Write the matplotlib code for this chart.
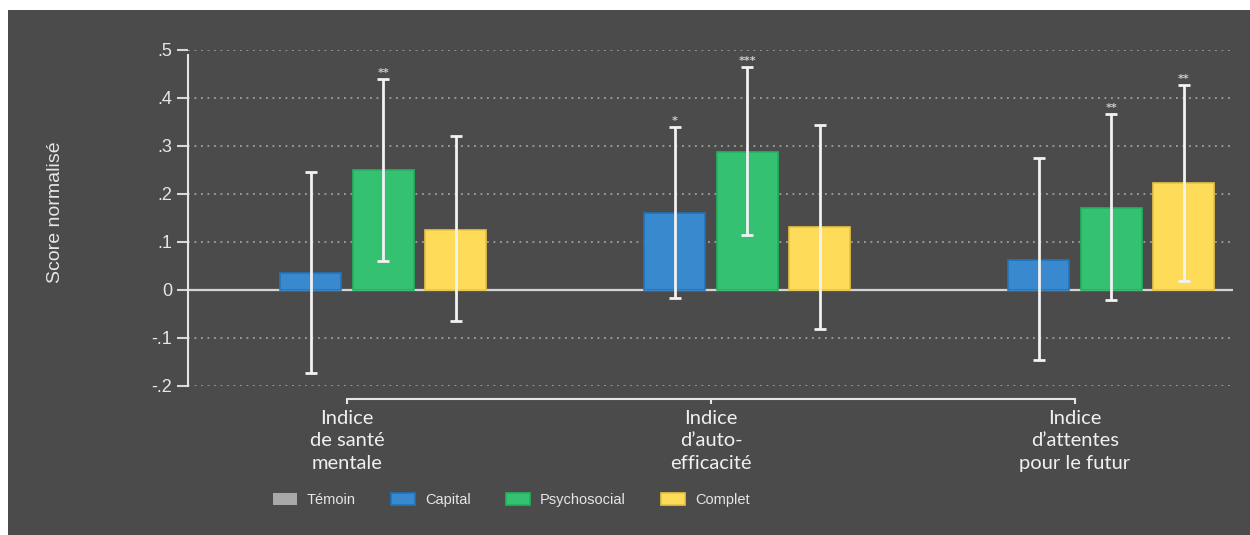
import matplotlib.pyplot as plt
from matplotlib.patches import Rectangle
import numpy as np

# Normalised scores by index and treatment arm (Témoin is the reference, 0)
indices = ["Indice\nde santé\nmentale", "Indice\nd\u2019auto-\nefficacité", "Indice\nd\u2019attentes\npour le futur"]
groups = ["Témoin", "Capital", "Psychosocial", "Complet"]

temoin = [0.0, 0.0, 0.0]
capital = [0.035, 0.160, 0.062]
psychosocial = [0.249, 0.288, 0.171]
complet = [0.126, 0.131, 0.223]

# 95% confidence bounds (lower, upper)
capital_ci = [(-0.172, 0.245), (-0.017, 0.340), (-0.146, 0.274)]
psychosocial_ci = [(0.061, 0.440), (0.114, 0.465), (-0.021, 0.367)]
complet_ci = [(-0.065, 0.320), (-0.081, 0.343), (0.019, 0.428)]

capital_stars = ["", "*", ""]
psychosocial_stars = ["**", "***", "**"]
complet_stars = ["", "", "**"]

yticks = [-0.2, -0.1, 0, 0.1, 0.2, 0.3, 0.4, 0.5]
yticklabels = ["-.2", "-.1", "0", ".1", ".2", ".3", ".4", ".5"]

BG = "#4b4b4b"
FG = "#e6e6e6"
SANS = ["Liberation Sans", "DejaVu Sans"]
colors = {"Témoin": ("#a9a9a9", "#9a9a9a"),
          "Capital": ("#3889cd", "#1f74bd"),
          "Psychosocial": ("#34c172", "#1fb45e"),
          "Complet": ("#fedc5a", "#e9c440")}

fig = plt.figure(figsize=(12.5, 5.35), dpi=100, facecolor="white")
fig.patches.append(Rectangle((8 / 1250, 0), 1, 525 / 535, transform=fig.transFigure,
                             facecolor=BG, edgecolor="none", zorder=-10))
ax = fig.add_axes([188 / 1250, (535 - 386) / 535, 1045 / 1250, 336 / 535])
ax.set_facecolor(BG)

x = np.arange(len(indices))
step = 0.199
width = 0.168
series = [("Témoin", temoin, None, None),
          ("Capital", capital, capital_ci, capital_stars),
          ("Psychosocial", psychosocial, psychosocial_ci, psychosocial_stars),
          ("Complet", complet, complet_ci, complet_stars)]

handles = []
for i, (name, vals, ci, stars) in enumerate(series):
    pos = x + (i - 1.5) * step
    face, edge = colors[name]
    b = ax.bar(pos, vals, width, color=face, edgecolor=edge, linewidth=1.2, zorder=3, label=name)
    handles.append(b)
    if ci is None:
        # zero-height reference bars: drop the outline so nothing shows on the axis
        for r in b:
            r.set_linewidth(0)
        continue
    lo = np.array([c[0] for c in ci])
    hi = np.array([c[1] for c in ci])
    v = np.array(vals)
    ax.errorbar(pos, v, yerr=[v - lo, hi - v], fmt="none", ecolor="#f2f2f2",
                elinewidth=2, capsize=4.3, capthick=2, zorder=4)
    for p, h, s in zip(pos, hi, stars):
        if s:
            ax.annotate(s, (p, h), xytext=(0, 0.5), textcoords="offset points",
                        ha="center", va="bottom", fontsize=8, color="#cfcfcf",
                        fontweight="bold", annotation_clip=False)

# grid and zero line
for t in yticks:
    if t == 0:
        ax.axhline(0, color="#d4d4d4", linewidth=1.6, zorder=2)
    else:
        ax.axhline(t, color="#a0a0a0", linewidth=1.3, linestyle=(0, (1, 2.6)), zorder=1)

ax.set_xlim(-0.437, 2.434)
ax.set_ylim(-0.2, 0.5)

for side in ["top", "right"]:
    ax.spines[side].set_visible(False)
ax.spines["left"].set_color(FG)
ax.spines["left"].set_linewidth(1.5)
ax.spines["left"].set_bounds(-0.2, 0.49)
ax.spines["bottom"].set_position(("outward", 9.4))
ax.spines["bottom"].set_bounds(0, 2)
ax.spines["bottom"].set_color(FG)
ax.spines["bottom"].set_linewidth(1.5)

ax.set_yticks(yticks)
ax.set_yticklabels(yticklabels)
ax.tick_params(axis="y", length=8, width=1.5, color="#d8d8d8", pad=3.5,
               labelsize=13, labelcolor=FG)
ax.set_xticks(x)
ax.set_xticklabels(indices, family=["Lato", "DejaVu Sans"], fontsize=14.5,
                   linespacing=1.4)
ax.tick_params(axis="x", length=3.6, width=1.5, color=FG, pad=4.2, labelcolor="#f0f0f0")
for lab in ax.get_yticklabels():
    lab.set_family(SANS)

ax.set_ylabel("Score normalisé", fontsize=14, color=FG, family=SANS)
ax.yaxis.set_label_coords(-0.1187, 0.518)

leg = fig.legend(handles=handles, labels=groups, loc="center", ncol=4,
                 bbox_to_anchor=(0.409, 0.0654), frameon=False,
                 prop={"family": SANS, "size": 10.5},
                 handlelength=1.65, handleheight=0.8, handletextpad=0.7,
                 columnspacing=2.4)
for t in leg.get_texts():
    t.set_color(FG)

fig.savefig("out.png", dpi=100, facecolor=fig.get_facecolor())
